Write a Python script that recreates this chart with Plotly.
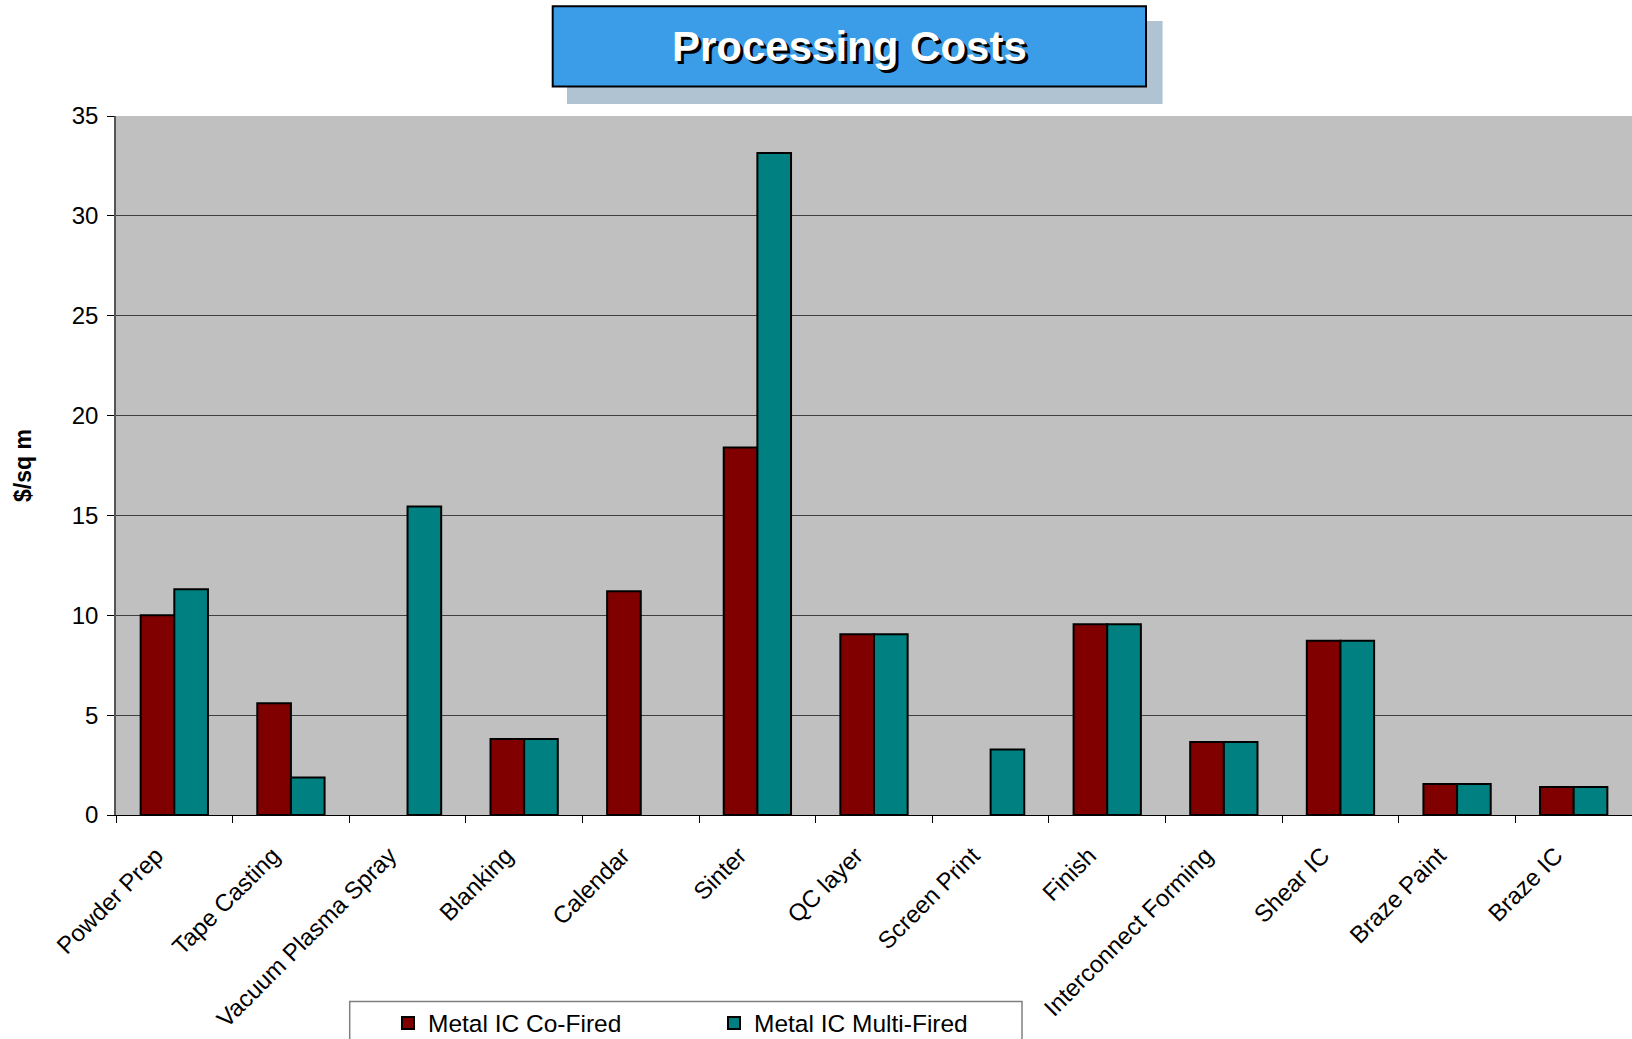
import plotly.graph_objects as go

# Processing steps and per-step costs ($/sq m)
steps = [
    "Powder Prep", "Tape Casting", "Vacuum Plasma Spray", "Blanking", "Calendar",
    "Sinter", "QC layer", "Screen Print", "Finish", "Interconnect Forming",
    "Shear IC", "Braze Paint", "Braze IC",
]
co_fired = [10.0, 5.6, None, 3.8, 11.2, 18.4, 9.05, None, 9.55, 3.65, 8.72, 1.55, 1.4]
multi_fired = [11.3, 1.88, 15.45, 3.8, None, 33.15, 9.05, 3.28, 9.55, 3.65, 8.72, 1.55, 1.4]
y_ticks = [0, 5, 10, 15, 20, 25, 30, 35]

W, H = 1632, 1039
L, R, T, B = 116, 0, 116, 224
FONT = "Liberation Sans, Arial, sans-serif"


def px_x(px):
    return (px - L) / (W - L - R)


def px_y(py):
    return (H - B - py) / (H - B - T)


fig = go.Figure()
fig.add_trace(go.Bar(
    name="Metal IC Co-Fired", x=steps, y=co_fired,
    marker=dict(color="#800000", line=dict(color="#000000", width=2)),
))
fig.add_trace(go.Bar(
    name="Metal IC Multi-Fired", x=steps, y=multi_fired,
    marker=dict(color="#008080", line=dict(color="#000000", width=2)),
))

shapes = [
    # title box drop shadow
    dict(type="rect", xref="paper", yref="paper", layer="above",
         x0=px_x(567), x1=px_x(1162.6), y0=px_y(21), y1=px_y(104),
         fillcolor="#B0C3D2", line=dict(width=0)),
    # title box
    dict(type="rect", xref="paper", yref="paper", layer="above",
         x0=px_x(552.7), x1=px_x(1146), y0=px_y(6.2), y1=px_y(86.4),
         fillcolor="#3B9CE8", line=dict(color="#000000", width=2)),
    # legend frame
    dict(type="rect", xref="paper", yref="paper", layer="below",
         x0=px_x(349.7), x1=px_x(1022), y0=px_y(1001.5), y1=px_y(1080),
         fillcolor="#FFFFFF", line=dict(color="#808080", width=1.5)),
]

annotations = [
    dict(text="<b>Processing Costs</b>", xref="paper", yref="paper",
         x=px_x(849.5), y=px_y(46), xanchor="center", yanchor="middle",
         showarrow=False,
         font=dict(family=FONT, size=42, color="#FFFFFF",
                   shadow="3px 3px 0px #000000")),
]

fig.update_layout(
    width=W, height=H,
    margin=dict(l=L, r=R, t=T, b=B, autoexpand=False),
    paper_bgcolor="#FFFFFF",
    plot_bgcolor="#C0C0C0",
    barmode="group", bargap=0.423, bargroupgap=0,
    font=dict(family=FONT, size=24, color="#000000"),
    shapes=shapes,
    annotations=annotations,
    showlegend=True,
    legend=dict(
        orientation="h", x=px_x(388), xanchor="left",
        y=px_y(1023), yanchor="middle",
        bgcolor="rgba(0,0,0,0)", borderwidth=0,
        font=dict(family=FONT, size=24.5, color="#000000"),
        entrywidth=281, entrywidthmode="pixels", itemwidth=30,
        traceorder="normal",
    ),
    xaxis=dict(
        type="category", tickangle=-45, tickson="boundaries",
        ticks="outside", ticklen=7, tickcolor="#000000", tickwidth=1,
        ticklabelshift=-18, ticklabelstandoff=16,
        showline=True, linecolor="#000000", linewidth=1,
        showgrid=False, tickfont=dict(family=FONT, size=24),
    ),
    yaxis=dict(
        range=[0, 35], tickvals=y_ticks, ticks="outside", ticklen=7,
        tickcolor="#000000", tickwidth=1, ticklabelstandoff=4,
        showline=True, linecolor="#555555", linewidth=1.5,
        showgrid=True, gridcolor="#404040", gridwidth=1,
        zeroline=False, tickfont=dict(family=FONT, size=24),
        title=dict(text="<b>$/sq m</b>", standoff=34,
                   font=dict(family=FONT, size=23)),
    ),
)

fig.write_html("out.html")
